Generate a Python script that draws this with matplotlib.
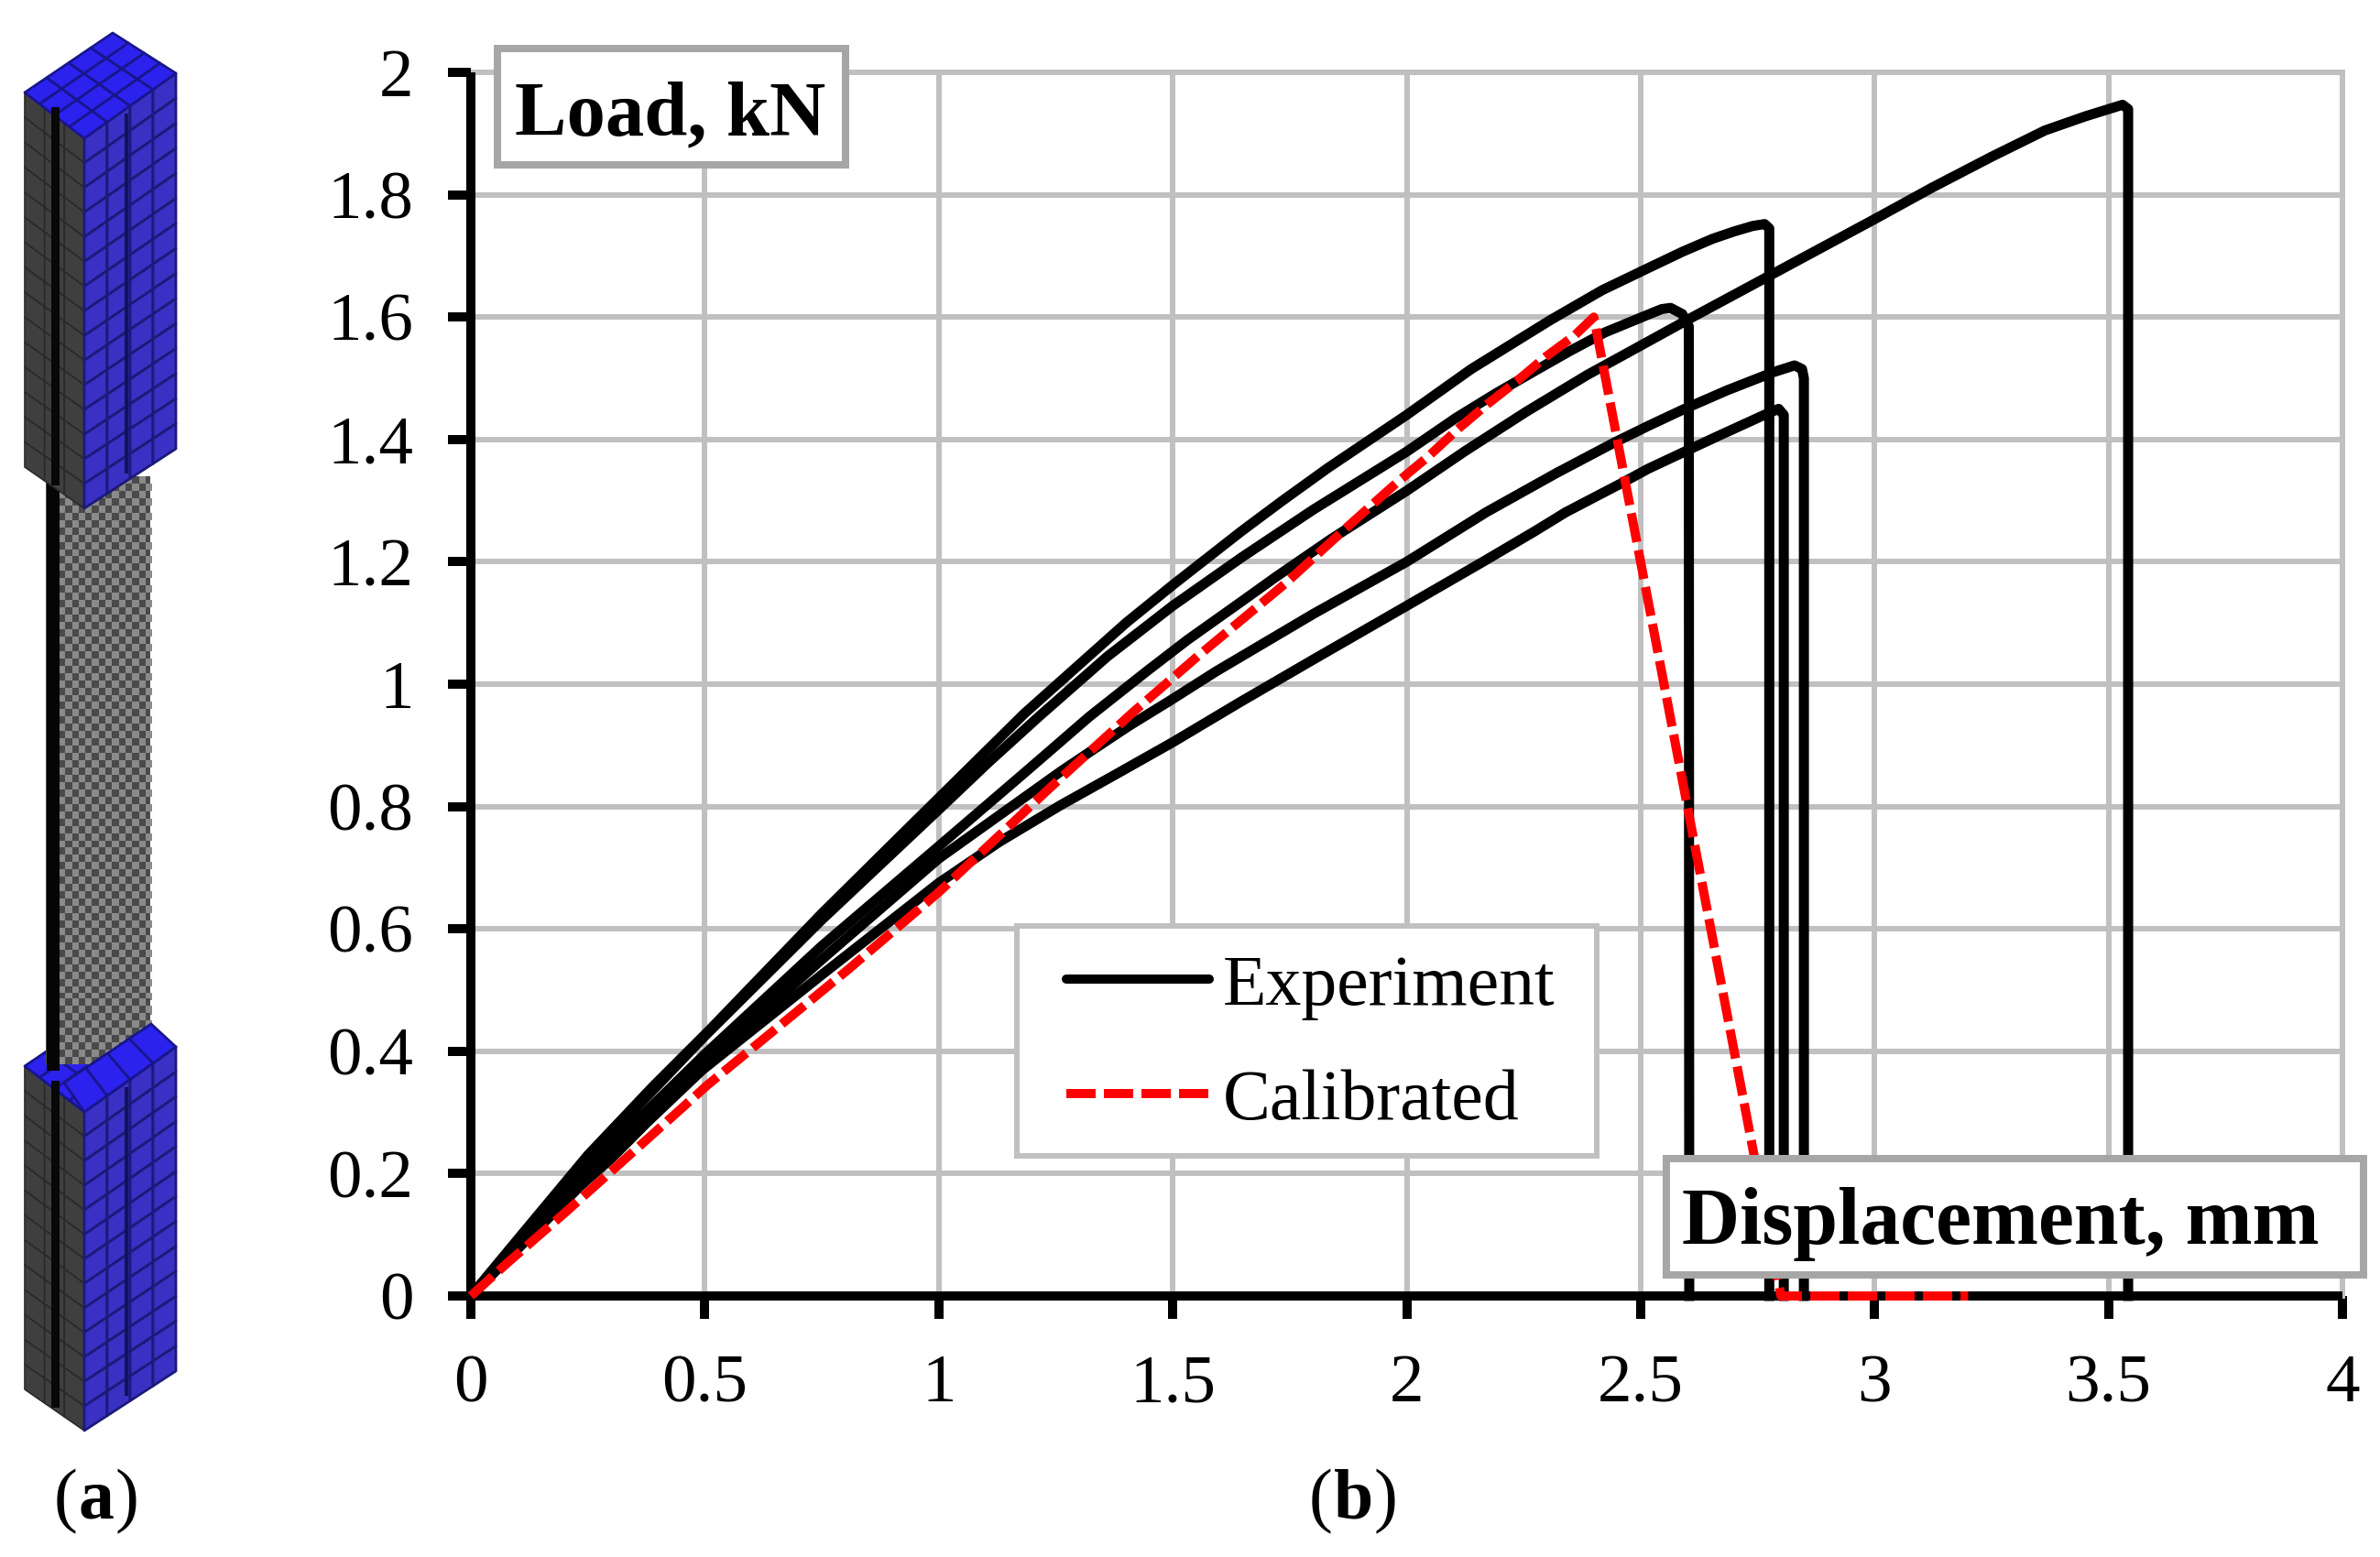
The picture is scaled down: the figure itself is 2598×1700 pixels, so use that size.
import matplotlib
matplotlib.use("Agg")
import matplotlib.pyplot as plt
from matplotlib.collections import PolyCollection
from matplotlib.patches import Rectangle
from matplotlib.lines import Line2D

plt.rcParams['font.family'] = ['Liberation Serif', 'DejaVu Serif']

W = 2598
H = 1700

# experiment curves
a_x = [0, 0.25, 0.5, 0.75, 1.0, 1.183, 1.322, 1.446, 1.531, 1.647, 1.72, 1.84, 2.0, 2.125, 2.255, 2.385, 2.516, 2.604, 2.774, 3.0, 3.124, 3.25, 3.364, 3.45, 3.53, 3.542, 3.542]
a_y = [0, 0.208, 0.395, 0.572, 0.735, 0.855, 0.947, 1.022, 1.072, 1.135, 1.175, 1.238, 1.316, 1.381, 1.445, 1.505, 1.56, 1.597, 1.667, 1.76, 1.812, 1.862, 1.905, 1.928, 1.947, 1.94, 0]

b_x = [0, 0.091, 0.25, 0.39, 0.513, 0.75, 0.951, 1.183, 1.4, 1.5, 1.647, 1.733, 1.831, 2.0, 2.138, 2.307, 2.418, 2.516, 2.59, 2.654, 2.70, 2.74, 2.765, 2.775, 2.775]
b_y = [0, 0.084, 0.23, 0.343, 0.437, 0.625, 0.777, 0.952, 1.10, 1.162, 1.25, 1.299, 1.353, 1.44, 1.515, 1.595, 1.644, 1.68, 1.707, 1.728, 1.74, 1.749, 1.752, 1.745, 0]

c_x = [0, 0.25, 0.5, 0.75, 1.0, 1.106, 1.214, 1.36, 1.5, 1.647, 1.8, 2.0, 2.105, 2.19, 2.274, 2.35, 2.424, 2.516, 2.545, 2.564, 2.589, 2.603, 2.604]
c_y = [0, 0.225, 0.425, 0.615, 0.795, 0.872, 0.947, 1.045, 1.128, 1.207, 1.285, 1.38, 1.435, 1.475, 1.512, 1.545, 1.575, 1.604, 1.613, 1.615, 1.605, 1.585, 0]

d_x = [0, 0.25, 0.5, 0.75, 1.0, 1.26, 1.338, 1.407, 1.492, 1.593, 1.801, 2.0, 2.17, 2.32, 2.444, 2.516, 2.594, 2.684, 2.784, 2.829, 2.845, 2.849, 2.849]
d_y = [0, 0.197, 0.38, 0.55, 0.715, 0.857, 0.897, 0.932, 0.972, 1.021, 1.115, 1.2, 1.281, 1.345, 1.395, 1.422, 1.45, 1.48, 1.51, 1.521, 1.515, 1.50, 0]

e_x = [0, 0.234, 0.299, 0.377, 0.494, 0.75, 1.0, 1.129, 1.26, 1.384, 1.5, 1.647, 1.8, 2.0, 2.163, 2.274, 2.34, 2.463, 2.516, 2.594, 2.664, 2.764, 2.795, 2.806, 2.806]
e_y = [0, 0.18, 0.224, 0.284, 0.369, 0.525, 0.675, 0.742, 0.802, 0.855, 0.905, 0.972, 1.04, 1.128, 1.2, 1.25, 1.281, 1.33, 1.352, 1.38, 1.405, 1.44, 1.45, 1.44, 0]

# calibrated model
cal_x = [0, 0.078, 0.201, 0.321, 0.445, 0.506, 0.807, 1.0, 1.237, 1.415, 1.554, 1.74, 1.879, 1.98, 2.046, 2.111, 2.173, 2.235, 2.297, 2.359, 2.4, 2.8, 3.2]
cal_y = [0, 0.054, 0.136, 0.218, 0.303, 0.345, 0.534, 0.66, 0.83, 0.954, 1.046, 1.164, 1.261, 1.33, 1.372, 1.418, 1.458, 1.495, 1.535, 1.57, 1.60, 0, 0]

x_ticks = [0, 0.5, 1, 1.5, 2, 2.5, 3, 3.5, 4]
x_labels = ['0', '0.5', '1', '1.5', '2', '2.5', '3', '3.5', '4']
y_ticks = [0, 0.2, 0.4, 0.6, 0.8, 1, 1.2, 1.4, 1.6, 1.8, 2]
y_labels = ['0', '0.2', '0.4', '0.6', '0.8', '1', '1.2', '1.4', '1.6', '1.8', '2']

px = 72 / 100  # points per pixel at dpi 100


def grid_face(ax, tl, tr, bl, br, ncol, nrow, face, edge, lw, z):
	# one face of the mesh, quads split between the four corners
	polys = []
	for i in range(ncol):
		for j in range(nrow):
			pts = []
			for u, v in [(i, j), (i + 1, j), (i + 1, j + 1), (i, j + 1)]:
				s = u / ncol
				t = v / nrow
				x = (1 - s) * (1 - t) * tl[0] + s * (1 - t) * tr[0] + (1 - s) * t * bl[0] + s * t * br[0]
				y = (1 - s) * (1 - t) * tl[1] + s * (1 - t) * tr[1] + (1 - s) * t * bl[1] + s * t * br[1]
				pts.append((x, y))
			polys.append(pts)
	ax.add_collection(PolyCollection(polys, facecolors=face, edgecolors=edge, linewidths=lw, zorder=z))


def block(ax, ytop, ybot, nrow):
	left_t = (27, ytop + 65)
	front_t = (92, ytop + 115)
	right_t = (192, ytop + 44)
	apex = (123, ytop)
	left_b = (27, ybot - 45)
	front_b = (92, ybot)
	right_b = (192, ybot - 65)
	grid_face(ax, left_t, front_t, left_b, front_b, 3, nrow, '#3f3f3f', '#2a2a2a', 1.2, 2)
	grid_face(ax, front_t, right_t, front_b, right_b, 4, nrow, '#3a30c4', '#1c1a78', 2.0, 2)
	grid_face(ax, left_t, apex, front_t, right_t, 4, 4, '#2c22ee', '#18168c', 2.0, 2)
	ax.plot([60, 60], [ytop + 85, ybot - 30], color='#080808', lw=9 * px, zorder=3)
	ax.plot([138, 138], [ytop + 90, ybot - 40], color='#14125c', lw=4 * px, zorder=3)


def checks(ax, ytop, nrow, z):
	polys = []
	for i in range(14):
		for j in range(nrow):
			if (i + j) % 2 == 0:
				x0 = 64 + i * 7.3
				y0 = ytop + j * 7.95
				polys.append([(x0, y0), (x0 + 7.3, y0), (x0 + 7.3, y0 + 7.95), (x0, y0 + 7.95)])
	ax.add_patch(Rectangle((50, ytop), 114, nrow * 7.95, fc='#4a4a4a', ec='none', zorder=z))
	ax.add_collection(PolyCollection(polys, facecolors='#8a8a8a', edgecolors='none', zorder=z))
	ax.plot([58, 58], [ytop, ytop + nrow * 7.95], color='#050505', lw=14 * px, zorder=z)


fig = plt.figure(figsize=(W / 100, H / 100), dpi=100)

ax = fig.add_axes([514 / W, 1 - 1415 / H, (2557 - 514) / W, (1415 - 79) / H])
ax.set_xlim(0, 4)
ax.set_ylim(0, 2)
ax.set_xticks(x_ticks)
ax.set_xticklabels(x_labels)
ax.set_yticks(y_ticks)
ax.set_yticklabels(y_labels)
ax.grid(True, color='#c0c0c0', lw=6 * px)
ax.set_axisbelow(True)
for g in ax.get_xgridlines() + ax.get_ygridlines():
	g.set_clip_on(False)
ax.tick_params(axis='both', length=25 * px, width=10 * px, color='black', labelsize=54)
ax.tick_params(axis='x', pad=28)
ax.tick_params(axis='y', pad=27)
for side in ['top', 'right']:
	ax.spines[side].set_visible(False)
for side in ['left', 'bottom']:
	ax.spines[side].set_linewidth(10 * px)
	ax.spines[side].set_capstyle('butt')

for xs, ys in [(a_x, a_y), (b_x, b_y), (c_x, c_y), (d_x, d_y), (e_x, e_y)]:
	ax.plot(xs, ys, color='black', lw=11 * px, solid_joinstyle='round', clip_on=False, zorder=4)
ax.plot(cal_x, cal_y, color='#ff0000', lw=10 * px, dashes=(3.2, 0.9), dash_capstyle='butt', clip_on=False, zorder=5)

ov = fig.add_axes([0, 0, 1, 1], facecolor='none')
ov.set_xlim(0, W)
ov.set_ylim(H, 0)
ov.axis('off')

# legend frame goes under the legend, which is drawn without its own
ax.add_patch(Rectangle((1110, 1011), 633, 251, transform=ov.transData, fc='white', ec='#c0c0c0',
	lw=6 * px, zorder=6, clip_on=False))
handles = [Line2D([], [], color='black', lw=10 * px, solid_capstyle='round'),
	Line2D([], [], color='#ff0000', lw=10 * px, dashes=(3.2, 0.9), dash_capstyle='butt')]
leg = ax.legend(handles, ['Experiment', 'Calibrated'], loc='upper left',
	bbox_to_anchor=(1164 / W, 1 - 1042 / H), bbox_transform=fig.transFigure,
	fontsize=56, frameon=False, handlelength=2.0, handletextpad=0.2, labelspacing=0.69,
	borderpad=0, borderaxespad=0)
leg.set_zorder(7)

# specimen mesh, panel (a)
checks(ov, 520, 84, 1)
block(ov, 36, 555, 15)
block(ov, 1099, 1562, 13)
checks(ov, 1090, 9, 3)
grid_face(ov, (70, 1182), (165, 1118), (92, 1214), (192, 1143), 4, 1, '#2c22ee', '#18168c', 2.0, 4)

for x0, x1, y0, y1 in [(543, 923, 53, 180), (1819, 2580, 1265, 1392)]:
	ov.add_patch(Rectangle((x0, y0), x1 - x0, y1 - y0, fc='white', ec='#a6a6a6', lw=8 * px, zorder=7))
ov.text(562, 147, 'Load, kN', fontsize=61, fontweight='bold', va='baseline', ha='left', zorder=8)
ov.text(1836, 1358, 'Displacement, mm', fontsize=63, fontweight='bold', va='baseline', ha='left', zorder=8)

ov.text(59, 1658, '(', fontsize=56, va='baseline', ha='left', zorder=8)
ov.text(86, 1658, 'a', fontsize=56, fontweight='bold', va='baseline', ha='left', zorder=8)
ov.text(126, 1658, ')', fontsize=56, va='baseline', ha='left', zorder=8)
ov.text(1429, 1658, '(', fontsize=56, va='baseline', ha='left', zorder=8)
ov.text(1456, 1658, 'b', fontsize=56, fontweight='bold', va='baseline', ha='left', zorder=8)
ov.text(1500, 1658, ')', fontsize=56, va='baseline', ha='left', zorder=8)

fig.savefig('out.png', dpi=100)
